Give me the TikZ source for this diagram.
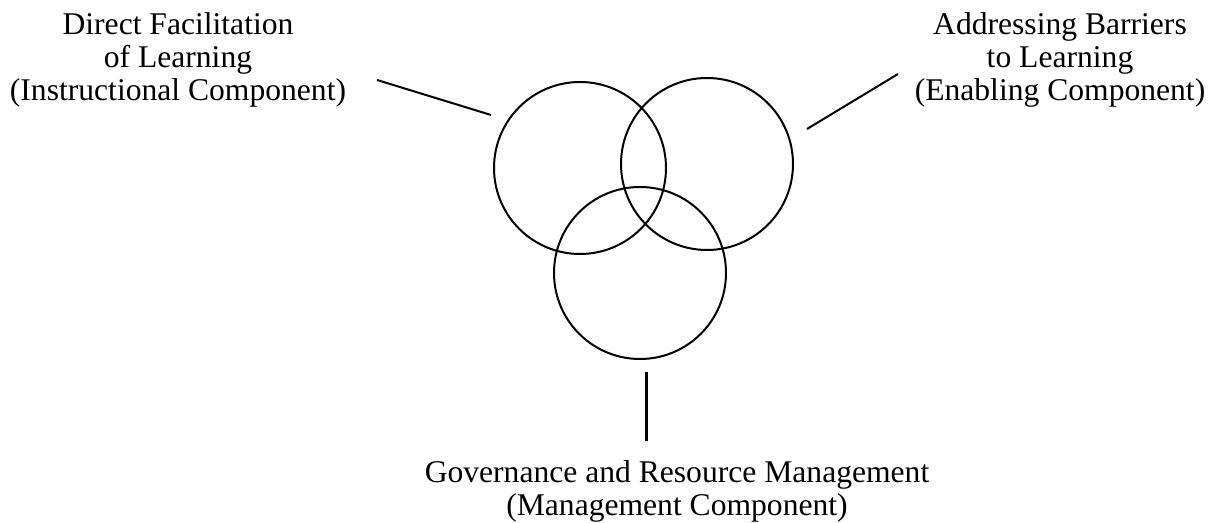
\documentclass[tikz,border=0pt]{standalone}
\usepackage{fontspec}
\setmainfont{Liberation Serif}
\begin{document}
\begin{tikzpicture}[x=0.5pt, y=0.5pt, every node/.style={font=\fontsize{15.8}{16.5}\selectfont, align=center, inner sep=0pt}]
\useasboundingbox (0,0) rectangle (1225,523);
\node[draw, circle, line width=1pt, minimum size=86pt] (instrcirc) at (580,355) {};
\node[draw, circle, line width=1pt, minimum size=86pt] (enabcirc) at (707,359) {};
\node[draw, circle, line width=1pt, minimum size=86pt] (mancirc) at (640,250) {};
\node[anchor=north] (instr) at (178,510.5) {Direct Facilitation\\of Learning\\(Instructional Component)};
\node[anchor=north] (enab) at (1060,510.5) {Addressing Barriers\\to Learning\\(Enabling Component)};
\node[anchor=north] (man) at (677,62.5) {Governance and Resource Management\\(Management Component)};
\coordinate (instrA) at (377,443);
\coordinate (instrB) at (491,408);
\coordinate (enabA) at (807,394);
\coordinate (enabB) at (898,449);
\coordinate (manA) at (646,151);
\coordinate (manB) at (646,82);
\draw[line width=1pt] (instrA) -- (instrB);
\draw[line width=1pt] (enabA) -- (enabB);
\draw[line width=1.5pt] (manA) -- (manB);
\end{tikzpicture}
\end{document}
